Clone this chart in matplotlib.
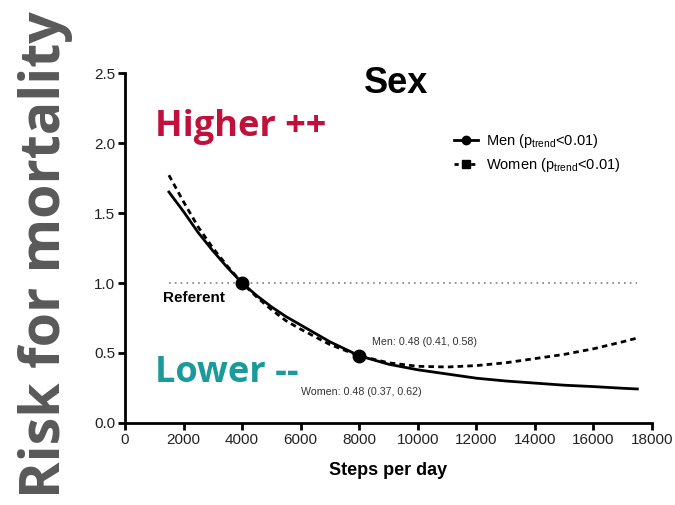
import matplotlib.pyplot as plt

# risk curves
steps = [1500, 2000, 2500, 3000, 3500, 4000, 4500, 5000, 5500, 6000, 7000, 8000, 9000,
         10000, 11000, 12000, 13000, 14000, 15000, 16000, 17000, 17500]
men = [1.65, 1.51, 1.36, 1.23, 1.11, 1.00, 0.91, 0.83, 0.76, 0.70, 0.58, 0.48, 0.42,
       0.38, 0.35, 0.32, 0.30, 0.285, 0.27, 0.26, 0.248, 0.243]
women = [1.77, 1.58, 1.40, 1.25, 1.12, 1.00, 0.90, 0.81, 0.73, 0.67, 0.56, 0.48, 0.43,
         0.405, 0.40, 0.41, 0.43, 0.46, 0.49, 0.53, 0.58, 0.607]
point_steps = [4000, 8000]
point_risk = [1.00, 0.48]
referent = 1.0

plt.rcParams['font.family'] = ['Liberation Sans', 'DejaVu Sans']

fig = plt.figure(figsize=(6.75, 5.05), dpi=100)
ax = fig.add_axes([0.1852, 0.1624, 0.7807, 0.693])

ax.plot([steps[0], steps[-1]], [referent, referent], color='#808080', lw=1.2, ls=(0, (1, 2.5)))
ax.plot(steps, men, color='black', lw=2)
ax.plot(steps, women, color='black', lw=2, ls=(0, (2, 1.5)))
ax.plot(point_steps, point_risk, 'o', color='black', ms=9)

# legend handles
h1, = ax.plot([], [], color='black', lw=2, marker='o', ms=6)
h2, = ax.plot([], [], color='black', lw=2, ls=(0, (1.5, 1.5)), marker='s', ms=6)
ax.legend([h1, h2], [r'Men ($\mathregular{p_{trend}}$<0.01)', r'Women ($\mathregular{p_{trend}}$<0.01)'],
          loc='upper left', bbox_to_anchor=(0.6, 0.87), frameon=False, fontsize=10.5,
          handlelength=1.6, handletextpad=0.6, labelspacing=0.45)

ax.set_xlim(0, 18000)
ax.set_ylim(0, 2.5)
ax.set_xticks(range(0, 18001, 2000))
ax.set_yticks([0.0, 0.5, 1.0, 1.5, 2.0, 2.5])
ax.set_yticklabels(['0.0', '0.5', '1.0', '1.5', '2.0', '2.5'])
for s in ['top', 'right']:
    ax.spines[s].set_visible(False)
for s in ['left', 'bottom']:
    ax.spines[s].set_linewidth(2)
ax.tick_params(width=2, length=5, labelsize=11, colors='black', pad=2)
ax.tick_params(axis='both', labelcolor='#222222')
ax.set_xlabel('Steps per day', fontsize=13, fontweight='bold', labelpad=11)

ax.text(0.514, 2.36, 'Sex', transform=ax.get_yaxis_transform(), fontsize=26,
        fontweight='bold', ha='center', va='baseline')
ax.text(1300, 0.864, 'Referent', fontsize=11, fontweight='bold', va='baseline', ha='left')
ax.text(8430, 0.56, 'Men: 0.48 (0.41, 0.58)', fontsize=7.7, color='#333333', va='baseline')
ax.text(6000, 0.20, 'Women: 0.48 (0.37, 0.62)', fontsize=7.7, color='#333333', va='baseline')

fig.text(0.23, 0.731, 'Higher ++', fontsize=26, fontweight='bold', color='#C0103C',
         family='Open Sans', va='baseline')
fig.text(0.23, 0.244, 'Lower --', fontsize=26, fontweight='bold', color='#1A9A9A',
         family='Open Sans', va='baseline')
fig.text(0.067, 0.495, 'Risk for mortality', fontsize=40, fontweight='bold', color='#595959',
         rotation=90, ha='center', va='center', family='Open Sans')

fig.savefig('out.png', dpi=100)
